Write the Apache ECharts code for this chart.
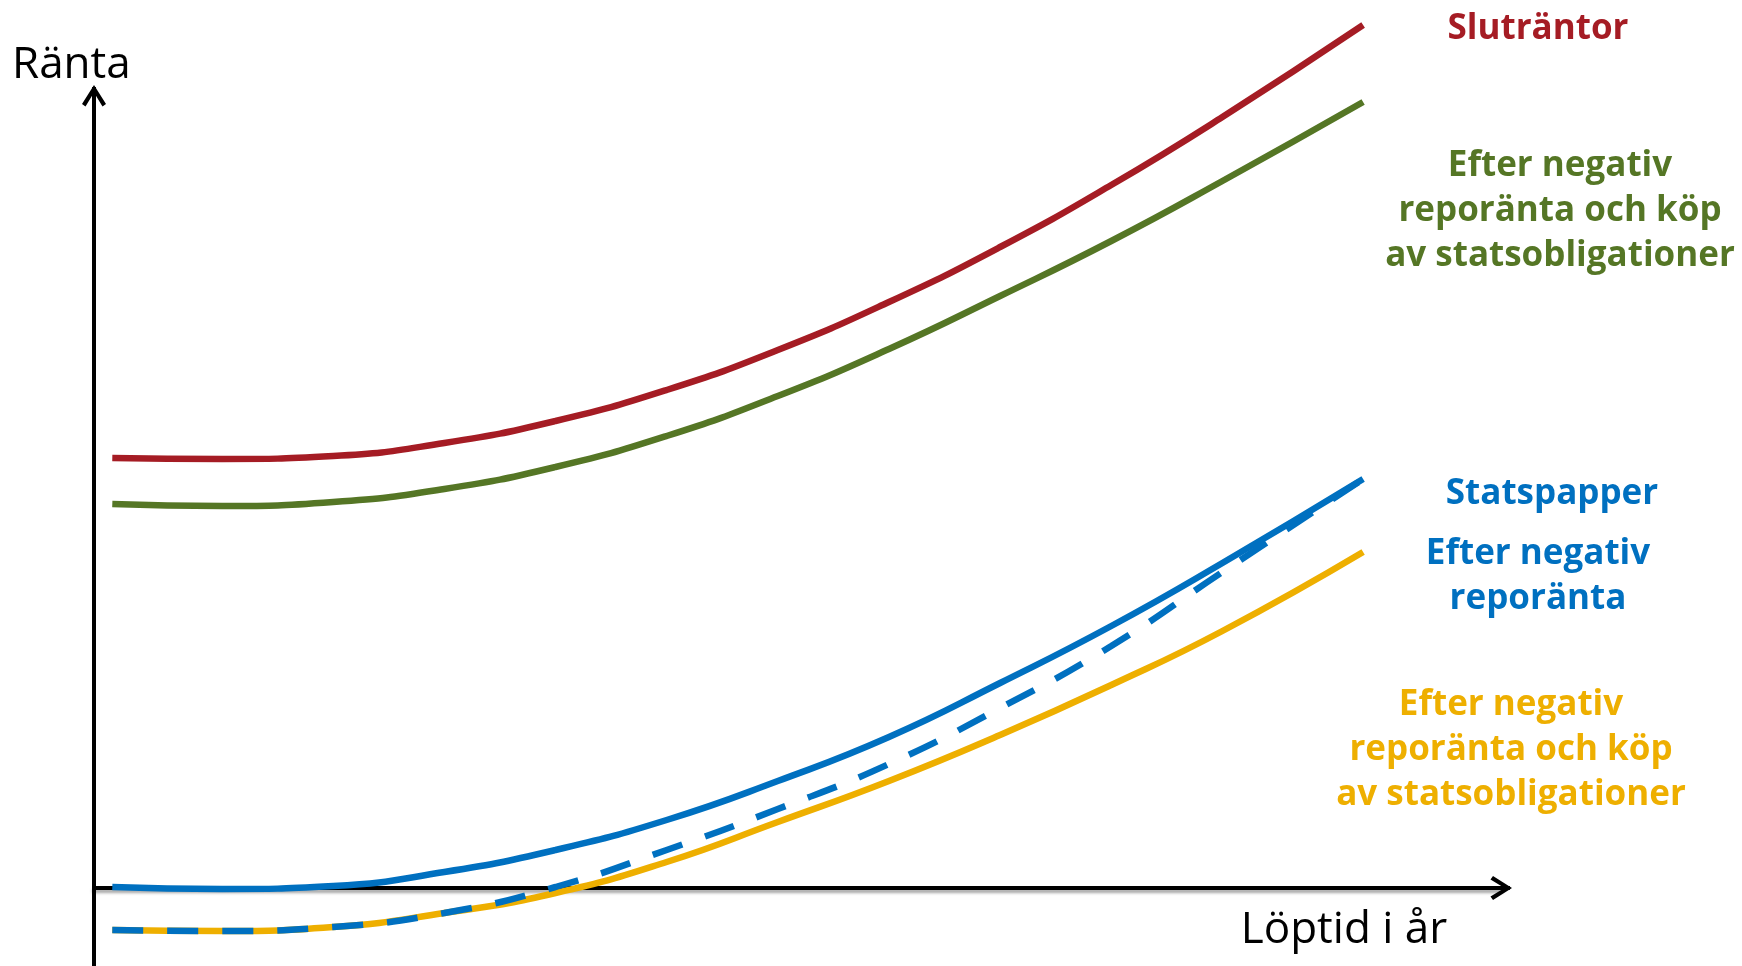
<!DOCTYPE html>
<html>
<head>
<meta charset="utf-8">
<script src="https://cdn.jsdelivr.net/npm/echarts@6/dist/echarts.min.js"></script>
<style>
html,body{margin:0;padding:0;background:#fff;}
#chart{width:1742px;height:966px;}
</style>
</head>
<body>
<div id="chart"></div>
<script>
// Löptid (maturity, arbitrary units)
const maturity = [1.3, 9.1, 17.0, 24.9, 32.8, 40.7, 48.6, 56.5, 64.4, 72.3, 80.2, 90.2];
// Ränta (rate, arbitrary units)
const slutrantor   = [43.0, 42.9, 43.2, 44.5, 46.7, 49.8, 53.8, 58.6, 64.1, 70.3, 77.1, 86.3];
const slutEfterKop = [38.4, 38.2, 38.6, 39.9, 42.1, 45.2, 49.2, 53.9, 59.2, 64.7, 70.7, 78.6];
const statspapper  = [0.1, -0.1, 0.2, 1.6, 3.8, 6.8, 10.7, 15.1, 20.5, 26.2, 32.5, 40.9];
const efterRepo    = [-4.2, -4.3, -3.9, -2.5, 0.1, 3.8, 7.9, 12.4, 18.0, 24.2, 31.6, 40.9];
const efterRepoKop = [-4.2, -4.3, -3.9, -2.5, -0.5, 2.6, 6.6, 10.7, 15.3, 20.3, 25.7, 33.6];

const axisTitles = { y: 'Ränta', x: 'Löptid i år' };
const seriesLabels = {
  slut: 'Sluträntor',
  slutKop: 'Efter negativ\nreporänta och köp\nav statsobligationer',
  stat: 'Statspapper',
  repo: 'Efter negativ\nreporänta',
  repoKop: 'Efter negativ\nreporänta och köp\nav statsobligationer'
};

const RED = '#A51C24', GREEN = '#557625', BLUE = '#0070C0', YELLOW = '#EEAF00';
const pair = arr => maturity.map((x, i) => [x, arr[i]]);

const chevron = 'path://M12,0 L24,19 L20.5,21.5 L12,7.5 L3.5,21.5 L0,19 Z M10,2 L14,2 L14,22 L10,22 Z';

const chart = echarts.init(document.getElementById('chart'), null, {renderer: 'canvas'});

function line(name, data, color, dashed, z) {
  return {
    name, type: 'line', data: pair(data), smooth: 0.5, showSymbol: false, clip: false,
    z: z, silent: true,
    lineStyle: { color, width: 6.5, type: dashed ? [31, 24] : 'solid', cap: 'butt' }
  };
}

const boldFont = 'bold 35px "Open Sans"';
chart.setOption({
  backgroundColor: '#ffffff',
  animation: false,
  grid: { left: 94, right: 241, top: 96, bottom: 0, containLabel: false, outerBoundsMode: 'none' },
  xAxis: {
    type: 'value', min: 0, max: 100,
    axisLine: { show: true, onZero: true, symbol: ['none', chevron], symbolSize: [24, 22],
      lineStyle: { color: '#000', width: 4, shadowColor: 'rgba(0,0,0,0.35)', shadowBlur: 3, shadowOffsetY: 3 } },
    axisTick: { show: false }, axisLabel: { show: false }, splitLine: { show: false }
  },
  yAxis: {
    type: 'value', min: -7.8, max: 79.2,
    axisLine: { show: true, onZero: true, symbol: ['none', chevron], symbolSize: [24, 22],
      lineStyle: { color: '#000', width: 4 } },
    axisTick: { show: false }, axisLabel: { show: false }, splitLine: { show: false }
  },
  series: [
    line(seriesLabels.slut, slutrantor, RED, false, 2),
    line('slutKop', slutEfterKop, GREEN, false, 2),
    line('repoKop', efterRepoKop, YELLOW, false, 2),
    line(seriesLabels.stat, statspapper, BLUE, false, 3),
    line('repo', efterRepo, BLUE, true, 4)
  ],
  graphic: [
    { type: 'text', x: 12, y: 65, silent: true, style: { text: axisTitles.y, font: '44px "Open Sans"', fill: '#000', align: 'left', verticalAlign: 'middle' } },
    { type: 'text', x: 1344, y: 930, silent: true, style: { text: axisTitles.x, font: '44px "Open Sans"', fill: '#000', align: 'center', verticalAlign: 'middle' } },
    { type: 'text', x: 1538, y: 29, silent: true, style: { text: seriesLabels.slut, font: boldFont, fill: RED, align: 'center', verticalAlign: 'middle' } },
    { type: 'text', x: 1560, y: 211, silent: true, style: { text: seriesLabels.slutKop, font: boldFont, lineHeight: 45, fill: GREEN, align: 'center', verticalAlign: 'middle' } },
    { type: 'text', x: 1552, y: 494, silent: true, style: { text: seriesLabels.stat, font: boldFont, fill: BLUE, align: 'center', verticalAlign: 'middle' } },
    { type: 'text', x: 1538, y: 577, silent: true, style: { text: seriesLabels.repo, font: boldFont, lineHeight: 45, fill: BLUE, align: 'center', verticalAlign: 'middle' } },
    { type: 'text', x: 1511, y: 750, silent: true, style: { text: seriesLabels.repoKop, font: boldFont, lineHeight: 45, fill: YELLOW, align: 'center', verticalAlign: 'middle' } }
  ]
});
</script>
</body>
</html>
